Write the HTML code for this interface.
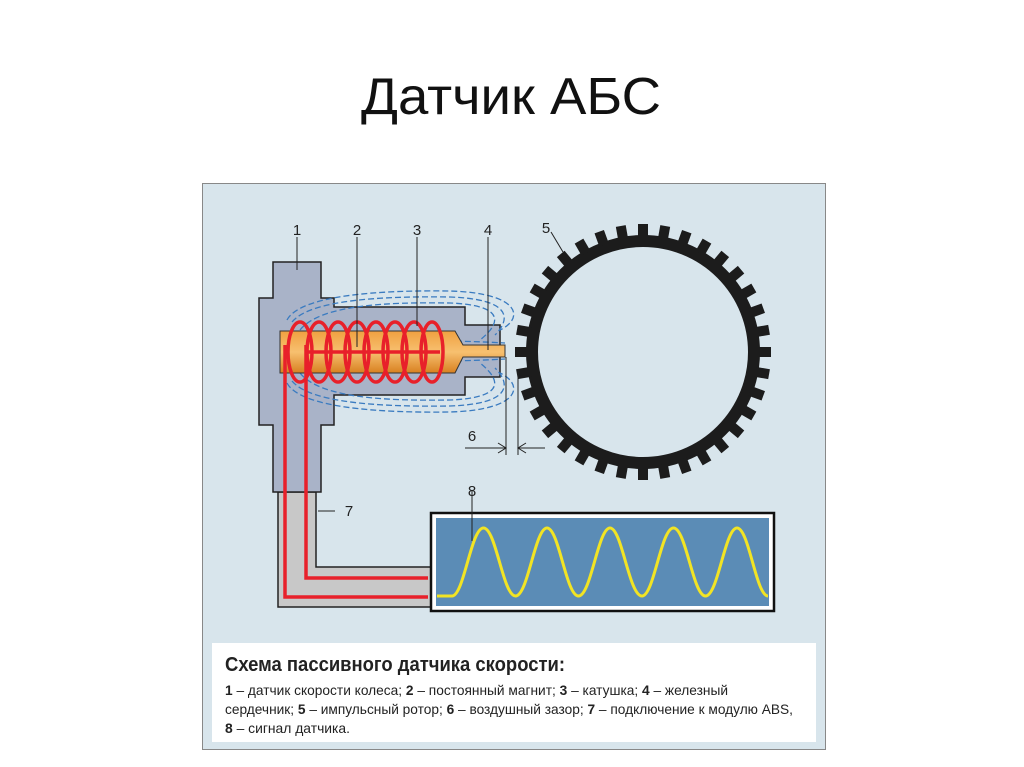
<!DOCTYPE html>
<html><head><meta charset="utf-8"><style>
html,body{margin:0;padding:0;background:#fff;width:1024px;height:767px;overflow:hidden}
svg{display:block}
.n{font-family:"Liberation Sans Narrow","Liberation Sans",sans-serif;font-size:15px;fill:#222}
</style></head><body>
<svg width="1024" height="767" viewBox="0 0 1024 767" xmlns="http://www.w3.org/2000/svg">
<text x="511" y="114" text-anchor="middle" font-family="Liberation Sans, sans-serif" font-size="52" fill="#111" textLength="300" lengthAdjust="spacingAndGlyphs">Датчик АБС</text>
<rect x="202.5" y="183.5" width="623" height="566" fill="#d8e5ec" stroke="#888" stroke-width="1"/>
<rect x="212" y="643" width="604" height="99" fill="#fff"/>
<text x="225" y="671" font-family="Liberation Sans Narrow, Liberation Sans, sans-serif" font-size="20" font-weight="bold" fill="#222" textLength="340" lengthAdjust="spacingAndGlyphs">Схема пассивного датчика скорости:</text>
<g font-family="Liberation Sans Narrow, Liberation Sans, sans-serif" font-size="14" fill="#222">
<text x="225" y="695" textLength="503" lengthAdjust="spacingAndGlyphs"><tspan font-weight="bold">1</tspan> – датчик скорости колеса; <tspan font-weight="bold">2</tspan> – постоянный магнит; <tspan font-weight="bold">3</tspan> – катушка; <tspan font-weight="bold">4</tspan> – железный</text>
<text x="225" y="714" textLength="568" lengthAdjust="spacingAndGlyphs">сердечник; <tspan font-weight="bold">5</tspan> – импульсный ротор; <tspan font-weight="bold">6</tspan> – воздушный зазор; <tspan font-weight="bold">7</tspan> – подключение к модулю ABS,</text>
<text x="225" y="733" textLength="125" lengthAdjust="spacingAndGlyphs"><tspan font-weight="bold">8</tspan> – сигнал датчика.</text>
</g>
<path d="M278,492 V607 H432 V567 H316 V492 Z" fill="#c8c8c8" stroke="#222" stroke-width="1.5"/>
<path d="M273,262 H321 V298 H334 V307 H465 V325 H500 V377 H465 V395 H334 V425 H321 V492 H273 V425 H259 V298 H273 Z" fill="#a9b3c8" stroke="#222" stroke-width="1.5"/>
<g fill="none" stroke="#3a7bc0" stroke-width="1.3" stroke-dasharray="6,3">
<path d="M287,320 C300,295 380,290 450,291 C520,293 525,318 500,330"/>
<path d="M292,322 C310,300 380,296 450,297 C510,299 512,318 495,335"/>
<path d="M300,330 C320,305 385,302 450,303 C500,305 505,320 480,340"/>
<path d="M287,383 C300,408 380,413 450,412 C520,410 525,385 500,373"/>
<path d="M292,381 C310,403 380,407 450,406 C510,404 512,385 495,368"/>
<path d="M300,373 C320,398 385,401 450,400 C500,398 505,383 480,363"/>
<path d="M330,345 C400,340 450,340 505,343" />
<path d="M330,358 C400,362 450,362 505,359" />
</g>
<defs><linearGradient id="og" x1="0" y1="0" x2="0" y2="1"><stop offset="0" stop-color="#f0a040"/><stop offset="0.5" stop-color="#f7c070"/><stop offset="1" stop-color="#d88020"/></linearGradient></defs>
<path d="M280,331 H455 L463,345 H505 V357 H463 L455,373 H280 Z" fill="url(#og)" stroke="#333" stroke-width="1"/>
<g fill="none" stroke="#e8202a" stroke-width="3.5">
<ellipse cx="300" cy="352" rx="12" ry="30"/>
<ellipse cx="319" cy="352" rx="12" ry="30"/>
<ellipse cx="338" cy="352" rx="12" ry="30"/>
<ellipse cx="357" cy="352" rx="12" ry="30"/>
<ellipse cx="376" cy="352" rx="12" ry="30"/>
<ellipse cx="395" cy="352" rx="12" ry="30"/>
<ellipse cx="414" cy="352" rx="12" ry="30"/>
<ellipse cx="432" cy="352" rx="11" ry="30"/>
<path d="M285,345 V597 H428"/>
<path d="M306,345 V578 H428"/>
<path d="M306,352 H440"/>
</g>
<g transform="translate(643,352)">
<circle r="111" fill="none" stroke="#1c1c1c" stroke-width="12"/>
<g fill="#1c1c1c">
<rect x="-5" y="-128" width="10" height="14" transform="rotate(0)"/><rect x="-5" y="-128" width="10" height="14" transform="rotate(10)"/><rect x="-5" y="-128" width="10" height="14" transform="rotate(20)"/><rect x="-5" y="-128" width="10" height="14" transform="rotate(30)"/><rect x="-5" y="-128" width="10" height="14" transform="rotate(40)"/><rect x="-5" y="-128" width="10" height="14" transform="rotate(50)"/><rect x="-5" y="-128" width="10" height="14" transform="rotate(60)"/><rect x="-5" y="-128" width="10" height="14" transform="rotate(70)"/><rect x="-5" y="-128" width="10" height="14" transform="rotate(80)"/><rect x="-5" y="-128" width="10" height="14" transform="rotate(90)"/><rect x="-5" y="-128" width="10" height="14" transform="rotate(100)"/><rect x="-5" y="-128" width="10" height="14" transform="rotate(110)"/><rect x="-5" y="-128" width="10" height="14" transform="rotate(120)"/><rect x="-5" y="-128" width="10" height="14" transform="rotate(130)"/><rect x="-5" y="-128" width="10" height="14" transform="rotate(140)"/><rect x="-5" y="-128" width="10" height="14" transform="rotate(150)"/><rect x="-5" y="-128" width="10" height="14" transform="rotate(160)"/><rect x="-5" y="-128" width="10" height="14" transform="rotate(170)"/><rect x="-5" y="-128" width="10" height="14" transform="rotate(180)"/><rect x="-5" y="-128" width="10" height="14" transform="rotate(190)"/><rect x="-5" y="-128" width="10" height="14" transform="rotate(200)"/><rect x="-5" y="-128" width="10" height="14" transform="rotate(210)"/><rect x="-5" y="-128" width="10" height="14" transform="rotate(220)"/><rect x="-5" y="-128" width="10" height="14" transform="rotate(230)"/><rect x="-5" y="-128" width="10" height="14" transform="rotate(240)"/><rect x="-5" y="-128" width="10" height="14" transform="rotate(250)"/><rect x="-5" y="-128" width="10" height="14" transform="rotate(260)"/><rect x="-5" y="-128" width="10" height="14" transform="rotate(270)"/><rect x="-5" y="-128" width="10" height="14" transform="rotate(280)"/><rect x="-5" y="-128" width="10" height="14" transform="rotate(290)"/><rect x="-5" y="-128" width="10" height="14" transform="rotate(300)"/><rect x="-5" y="-128" width="10" height="14" transform="rotate(310)"/><rect x="-5" y="-128" width="10" height="14" transform="rotate(320)"/><rect x="-5" y="-128" width="10" height="14" transform="rotate(330)"/><rect x="-5" y="-128" width="10" height="14" transform="rotate(340)"/><rect x="-5" y="-128" width="10" height="14" transform="rotate(350)"/>
</g></g>
<rect x="431" y="513" width="343" height="98" fill="#fff" stroke="#111" stroke-width="2.5"/>
<rect x="436" y="518" width="333" height="88" fill="#5b8cb6"/>
<path d="M437,596 H452 C464,596 471,528 483.5,528 C496,528 503,596 515.5,596 C528,596 535,528 547,528 C559,528 566,596 578.5,596 C591,596 598,528 610,528 C622,528 629,596 642,596 C654,596 661,528 673.5,528 C686,528 693,596 705.5,596 C718,596 725,528 737,528 C749,528 756,596 768,596" fill="none" stroke="#f2e424" stroke-width="3"/>
<g stroke="#222" stroke-width="1" fill="none">
<line x1="297" y1="237" x2="297" y2="270"/>
<line x1="357" y1="237" x2="357" y2="347"/>
<line x1="417" y1="237" x2="417" y2="326"/>
<line x1="488" y1="237" x2="488" y2="350"/>
<line x1="551" y1="232" x2="563" y2="252"/>
<line x1="318" y1="511" x2="335" y2="511"/>
<line x1="472" y1="491" x2="472" y2="541"/>
<line x1="506" y1="357" x2="506" y2="455"/>
<line x1="518" y1="370" x2="518" y2="455"/>
<line x1="465" y1="448" x2="506" y2="448"/>
<line x1="518" y1="448" x2="545" y2="448"/>
<path d="M498,443 L506,448 L498,453"/>
<path d="M526,443 L518,448 L526,453"/>
</g>
<g class="n" text-anchor="middle">
<text x="297" y="235">1</text><text x="357" y="235">2</text><text x="417" y="235">3</text><text x="488" y="235">4</text><text x="546" y="233">5</text>
<text x="472" y="441">6</text><text x="349" y="516">7</text><text x="472" y="496">8</text>
</g>
</svg>
</body></html>
